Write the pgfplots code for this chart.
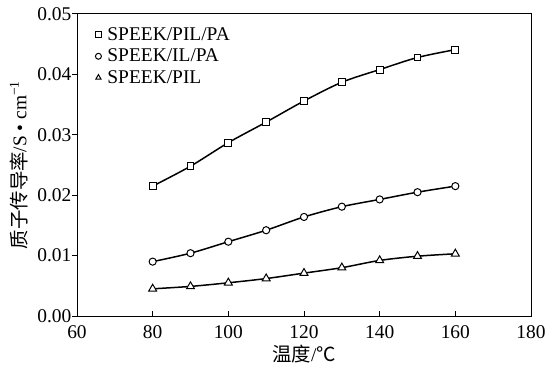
\documentclass[border=0pt]{standalone}
\usepackage{fontspec}
\setmainfont{Liberation Serif}
\newfontfamily\cjk{Noto Sans CJK SC}
\usepackage{pgfplots}
\pgfplotsset{compat=1.18}
\begin{document}
\begin{tikzpicture}
\begin{axis}[
  scale only axis,
  width=454bp, height=302bp,
  xmin=60, xmax=180, ymin=0, ymax=0.05,
  xtick={60,80,...,180},
  ytick={0,0.01,...,0.05},
  xtick align=inside, ytick align=outside,
  tick pos=left,
  major tick length=4.5bp,
  tick style={black, line width=1pt},
  axis line style={line width=1pt},
  /pgf/number format/assume math mode=true,
  yticklabel style={/pgf/number format/fixed, /pgf/number format/fixed zerofill, /pgf/number format/precision=2, inner sep=1bp},
  xticklabel style={inner sep=1bp, yshift=-8bp},
  scaled y ticks=false,
  ticklabel style={font=\fontsize{19.5}{22}\selectfont},
  xlabel={{\cjk 温度}/{\cjk ℃}},
  ylabel={{\cjk 质子传导率}/S • cm\textsuperscript{−1}},
  label style={font=\fontsize{19.5}{22}\selectfont},
  xlabel style={at={(axis description cs:0.5,0)}, anchor=north, inner sep=0pt, yshift=-29bp},
  ylabel style={at={(axis description cs:0,0.5)}, anchor=center, inner sep=0pt, rotate=0, yshift=58bp},
  legend style={draw=none, fill=none, at={(0.038,0.965)}, anchor=north west, font=\fontsize{19.5}{22}\selectfont, row sep=3bp, inner sep=1bp},
  legend cell align=left,
  legend image code/.code={\draw[#1, mark size=3pt, line width=0.8pt] plot coordinates {(0cm,0cm)}; \path[draw=none, fill=none] (0bp,0bp) -- (7bp,0bp);},
  every axis plot/.append style={black, line width=1.5pt, smooth, mark options={fill=white, line width=1pt, solid}},
]
\addplot[mark=square*, mark size=3.5pt] coordinates {
(80,0.0215) (90,0.0248) (100,0.0287) (110,0.0321) (120,0.0356) (130,0.0387) (140,0.0408) (150,0.0428) (160,0.0441)};
\addlegendentry{SPEEK/PIL/PA}
\addplot[mark=*, mark size=3.6pt] coordinates {
(80,0.0090) (90,0.0104) (100,0.0123) (110,0.0142) (120,0.0164) (130,0.0181) (140,0.0193) (150,0.0205) (160,0.0215)};
\addlegendentry{SPEEK/IL/PA}
\addplot[mark=triangle*, mark size=4.6pt] coordinates {
(80,0.0045) (90,0.0049) (100,0.0055) (110,0.0062) (120,0.0071) (130,0.0080) (140,0.0092) (150,0.0099) (160,0.0103)};
\addlegendentry{SPEEK/PIL}
\end{axis}
\pgfresetboundingbox
\path ([shift={(-77bp,-50bp)}]current axis.south west) rectangle ([shift={(21bp,14bp)}]current axis.north east);
\end{tikzpicture}
\end{document}
